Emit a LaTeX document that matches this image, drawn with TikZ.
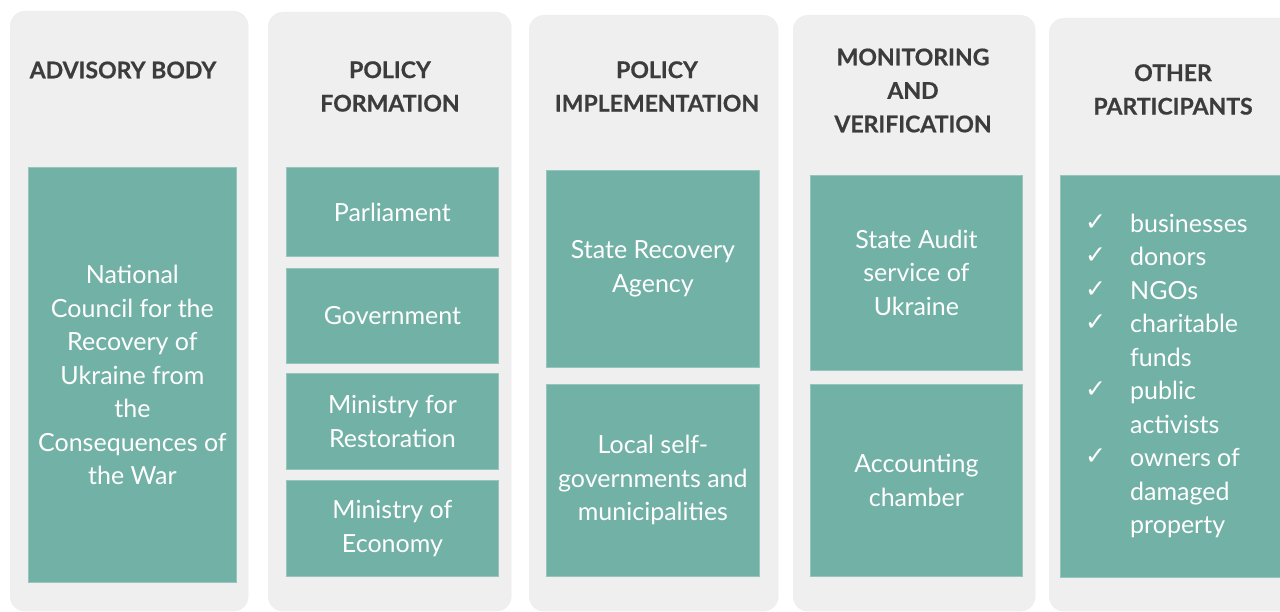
\documentclass[tikz,border=0pt]{standalone}
\usepackage{fontspec}
\setmainfont{Lato}
\newfontfamily\symfont{DejaVu Sans}
\usetikzlibrary{positioning}
\definecolor{panel}{HTML}{EFEFEF}
\definecolor{boxteal}{HTML}{72B1A6}
\definecolor{heading}{HTML}{3C3C3C}
\tikzstyle{column} = [rectangle, rounded corners=15pt, fill=panel, draw=black!7, anchor=north west, inner sep=0pt]
\tikzstyle{title} = [text=heading, align=center, font=\bfseries\fontsize{23}{33.5}\selectfont\addfontfeature{FakeBold=0.6}]
\tikzstyle{unit} = [rectangle, anchor=north west, inner sep=0pt, fill=boxteal, draw=boxteal!75!white, line width=0.8pt, text=white, align=center, font=\fontsize{25}{33.5}\selectfont]
\tikzstyle{list} = [anchor=west, inner sep=0pt, text=white, align=left, font=\fontsize{25}{33.5}\selectfont]
\newcommand{\chk}{\makebox[45pt][l]{\raisebox{2pt}{\symfont\fontsize{25}{20}\selectfont\char"2713}}}

\begin{document}
\begin{tikzpicture}[x=1pt, y=-1pt]
\useasboundingbox (0,0) rectangle (1280,612);

% columns
\node (c1) [column, minimum width=238pt, minimum height=600pt] at (10,11) {};
\node (c2) [column, minimum width=243pt, minimum height=599pt] at (268,12) {};
\node (c3) [column, minimum width=249pt, minimum height=596pt] at (529,15) {};
\node (c4) [column, minimum width=242pt, minimum height=596pt] at (793,15) {};
\node (c5) [column, minimum width=250pt, minimum height=593pt] at (1049,18) {};

% headings
\node (t1) [title] at (123,70) {ADVISORY BODY};
\node (t2) [title] at (390,86.5) {POLICY\\FORMATION};
\node (t3) [title] at (657,86.5) {POLICY\\IMPLEMENTATION};
\node (t4) [title] at (913,90.5) {MONITORING\\AND\\VERIFICATION};
\node (t5) [title] at (1173,89.5) {OTHER\\PARTICIPANTS};

% boxes
\node (0) [unit, minimum width=208pt, minimum height=415pt] at (28,167) {National\\Council for the\\Recovery of\\Ukraine from\\the\\Consequences of\\the War};
\node (1) [unit, minimum width=212pt, minimum height=89pt] at (286,167) {Parliament};
\node (2) [unit, minimum width=212pt, minimum height=95pt] at (286,268) {Government};
\node (3) [unit, minimum width=212pt, minimum height=96pt] at (286,373) {Ministry for\\Restoration};
\node (4) [unit, minimum width=212pt, minimum height=96pt] at (286,480) {Ministry of\\Economy};
\node (5) [unit, minimum width=213pt, minimum height=197pt] at (546,170) {State Recovery\\Agency};
\node (6) [unit, minimum width=213pt, minimum height=192pt] at (546,384) {Local self-\\governments and\\municipalities};
\node (7) [unit, minimum width=212pt, minimum height=195pt] at (810,175) {State Audit\\service of\\Ukraine};
\node (8) [unit, minimum width=212pt, minimum height=192pt] at (810,384) {Accounting\\chamber};
\node (9) [unit, minimum width=240pt, minimum height=402pt] at (1060,175) {};

\node (10) [list] at (1085,376) {\chk businesses\\\chk donors\\\chk NGOs\\\chk charitable\\\hspace*{45pt}funds\\\chk public\\\hspace*{45pt}activists\\\chk owners of\\\hspace*{45pt}damaged\\\hspace*{45pt}property};

\end{tikzpicture}
\end{document}
